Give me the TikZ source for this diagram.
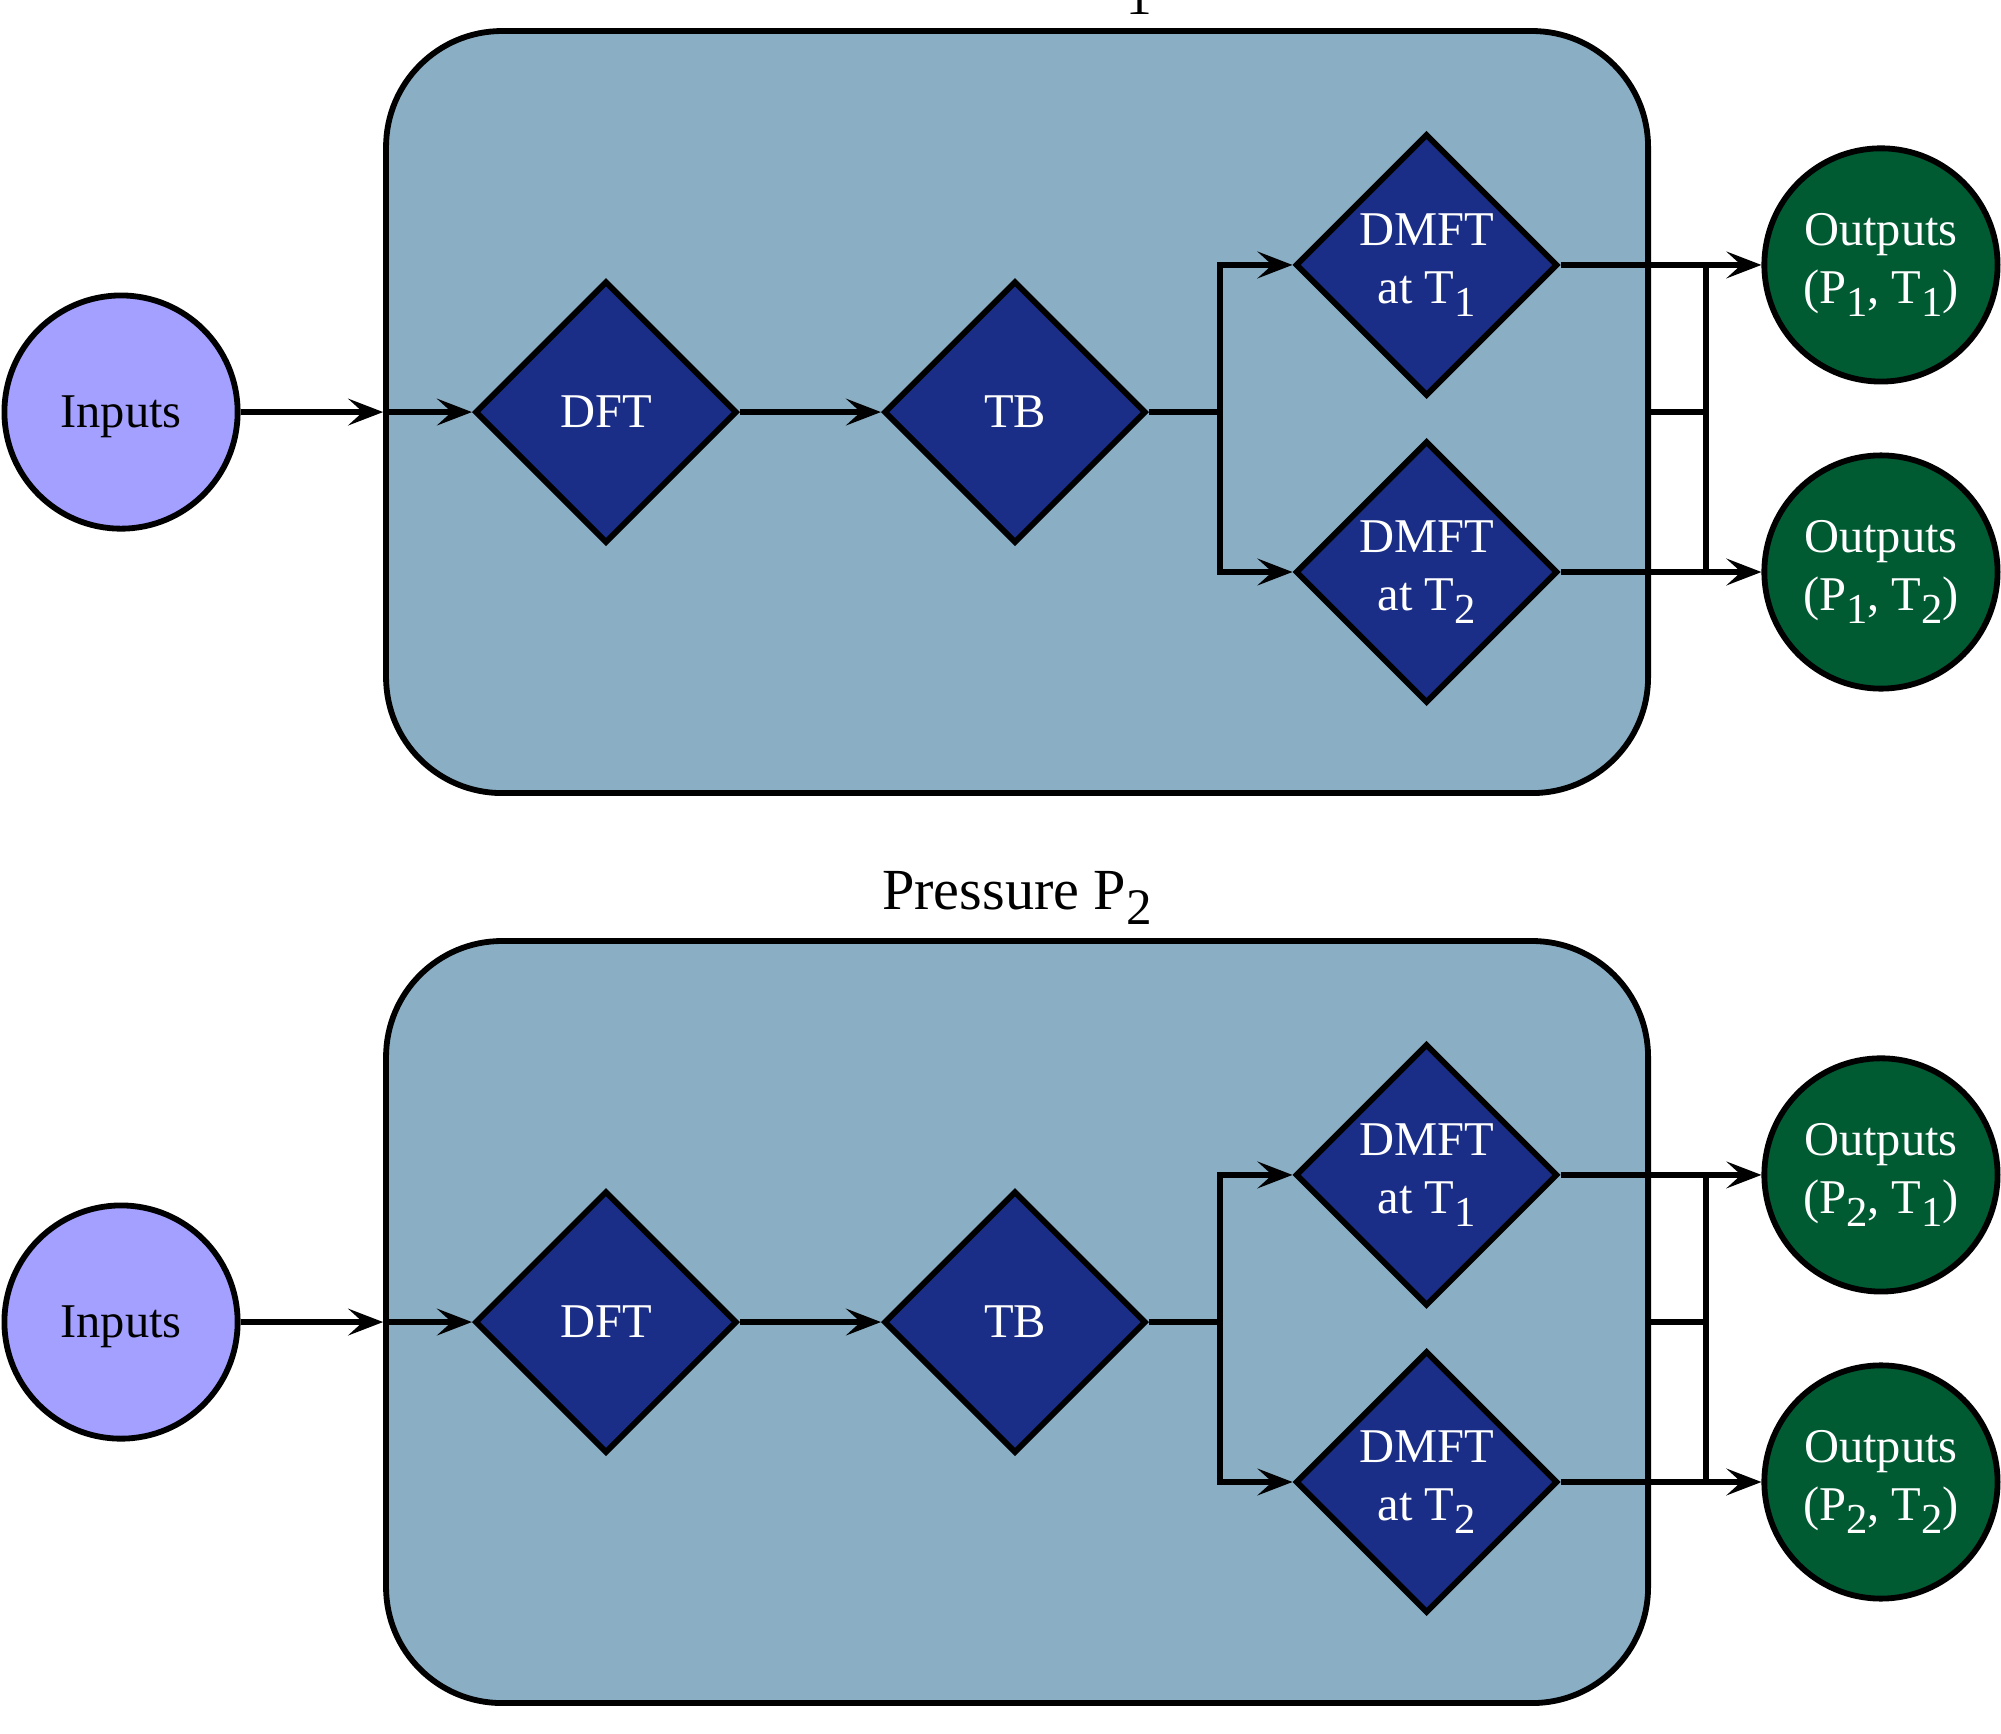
\documentclass[tikz,border=0pt]{standalone}
\usepackage{fontspec}
\setmainfont{Liberation Serif}
\usepackage{tikz}
\usetikzlibrary{shapes.geometric}
\usetikzlibrary{arrows.meta}
\usetikzlibrary{calc}

\definecolor{panelblue}{RGB}{138,175,197}
\definecolor{stageblue}{RGB}{27,46,135}
\definecolor{inviolet}{RGB}{163,160,255}
\definecolor{outgreen}{RGB}{0,90,50}

% big, low subscripts
\newcommand{\dn}[1]{\raisebox{-0.27em}{\scalebox{0.88}{#1}}}

\tikzset{
  panel/.style={draw=black, very thick, fill=panelblue, rounded corners=0.84cm,
    minimum width=9.145cm, minimum height=5.522cm},
  plabel/.style={font=\large, inner sep=0pt},
  stage/.style={diamond, aspect=1, draw=black, very thick, fill=stageblue,
    text=white, minimum size=1.9cm, inner sep=0pt, align=center},
  inbub/.style={circle, draw=black, very thick, fill=inviolet,
    minimum size=1.69cm, inner sep=0pt, text depth=0pt},
  outbub/.style={circle, draw=black, very thick, fill=outgreen, text=white,
    minimum size=1.69cm, inner sep=0pt, align=center},
  flow/.style={very thick, -{Stealth[length=7.2pt, width=5.5pt, inset=3pt]}},
}

\begin{document}
\begin{tikzpicture}
        \useasboundingbox (0,0) rectangle (14.5,-12.565);

        \foreach \p/\dy in {1/0, 2/-6.594} {
        \begin{scope}[yshift=\dy cm]
        \node[panel] (box\p) at (7.370,-2.986) {};
        \node[plabel, anchor=base] (plab\p) at (7.370,0.007) {Pressure P\dn{\p}};

        \node[inbub] (in\p) at (0.877,-2.986) {Inputs};
        \node[stage] (dft\p) at (4.391,-2.986) {DFT};
        \node[stage] (tb\p) at (7.355,-2.986) {TB};
        \node[stage] (dmftA\p) at (10.337,-1.920) {DMFT\\at T\dn{1}};
        \node[stage] (dmftB\p) at (10.337,-4.145) {DMFT\\at T\dn{2}};
        \node[outbub] (outA\p) at (13.630,-1.920) {Outputs\\(P\dn{\p}, T\dn{1})};
        \node[outbub] (outB\p) at (13.630,-4.145) {Outputs\\(P\dn{\p}, T\dn{2})};

        \coordinate (split\p) at (8.841,-2.986);
        \coordinate (busA\p) at (12.362,-1.920);
        \coordinate (busB\p) at (12.362,-4.145);

        % into the box and along the chain
        \draw[flow] (in\p) -- (box\p.west);
        \draw[flow] (box\p.west) -- (dft\p);
        \draw[flow] (dft\p) -- (tb\p);
        \draw[very thick] (tb\p) -- (split\p);
        \draw[flow] (split\p) |- (dmftA\p);
        \draw[flow] (split\p) |- (dmftB\p);

        % out to the results
        \draw[flow] (dmftA\p) -- (outA\p);
        \draw[flow] (dmftB\p) -- (outB\p);
        \draw[very thick] (busA\p) -- (busB\p);
        \draw[very thick] (box\p.east) -- (box\p.east -| busA\p);
        \end{scope}
        }
\end{tikzpicture}
\end{document}
